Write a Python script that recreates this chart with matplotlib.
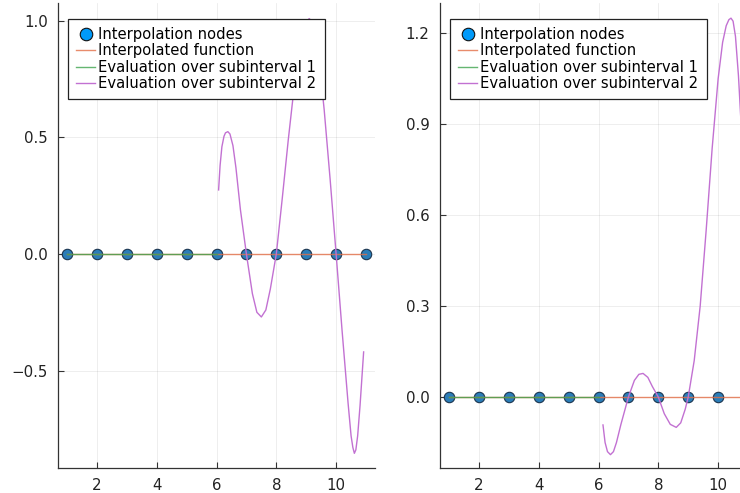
import numpy as np
import matplotlib
matplotlib.use("Agg")
import matplotlib.pyplot as plt

# interpolation nodes
nodes_x = [1, 2, 3, 4, 5, 6, 7, 8, 9, 10, 11]
nodes_y = [0, 0, 0, 0, 0, 0, 0, 0, 0, 0, 0]

# subinterval 1 evaluation (flat zero over [1, 6])
sub1_x = [1, 2, 3, 4, 5, 6]
sub1_y = [0, 0, 0, 0, 0, 0]

# subinterval 2 evaluation, left panel
left_x = [6.07, 6.12, 6.18, 6.25, 6.3, 6.38, 6.45, 6.55, 6.65, 6.8, 7.0, 7.2, 7.35,
          7.5, 7.65, 7.8, 8.0, 8.2, 8.4, 8.6, 8.8, 8.95, 9.03, 9.1, 9.18, 9.25,
          9.4, 9.6, 9.8, 10.0, 10.2, 10.4, 10.5, 10.56, 10.61, 10.66, 10.72,
          10.8, 10.92]
left_y = [0.275, 0.38, 0.46, 0.505, 0.52, 0.525, 0.515, 0.465, 0.37, 0.19, 0.0,
          -0.17, -0.25, -0.27, -0.24, -0.15, 0.0, 0.24, 0.49, 0.72, 0.90, 0.98,
          1.0, 1.01, 1.0, 0.98, 0.87, 0.62, 0.32, 0.0, -0.33, -0.64, -0.78, -0.83,
          -0.855, -0.84, -0.78, -0.65, -0.42]

# subinterval 2 evaluation, right panel
right_x = [6.15, 6.22, 6.3, 6.4, 6.5, 6.6, 6.75, 7.0, 7.2, 7.35, 7.49, 7.65, 7.8,
           8.0, 8.2, 8.4, 8.6, 8.75, 8.9, 9.0, 9.2, 9.4, 9.6, 9.8, 10.0, 10.15,
           10.27, 10.36, 10.43, 10.5, 10.58, 10.68, 10.78, 10.9]
right_y = [-0.092, -0.15, -0.18, -0.19, -0.18, -0.15, -0.09, 0.0, 0.055, 0.075,
           0.078, 0.065, 0.035, 0.0, -0.055, -0.09, -0.10, -0.085, -0.04, 0.0, 0.12,
           0.30, 0.55, 0.82, 1.05, 1.17, 1.225, 1.245, 1.25, 1.24, 1.19, 1.06, 0.88,
           0.66]

blue = "#009afa"
orange = "#e36f47"
green = "#3ea44e"
purple = "#c271d2"

fig = plt.figure(figsize=(7.4, 4.93), dpi=100)
ax1 = fig.add_axes([58 / 740, 25 / 493, 317 / 740, 465 / 493])
ax2 = fig.add_axes([440 / 740, 25 / 493, 317 / 740, 465 / 493])

panels = [
    (ax1, left_x, left_y, (-0.918, 1.077), [-0.5, 0.0, 0.5, 1.0]),
    (ax2, right_x, right_y, (-0.234, 1.30), [0.0, 0.3, 0.6, 0.9, 1.2]),
]

for ax, cx, cy, ylim, yticks in panels:
    ax.plot(nodes_x, nodes_y, "o", ms=7.5, mfc="#2a7db8", mec="#1b3550", mew=0.8,
            label="Interpolation nodes", zorder=2)
    ax.plot(nodes_x, nodes_y, color=orange, lw=1, alpha=0.8,
            label="Interpolated function", zorder=3)
    ax.plot(sub1_x, sub1_y, color=green, lw=1, alpha=0.8,
            label="Evaluation over subinterval 1", zorder=4)
    ax.plot(cx, cy, color=purple, lw=1, label="Evaluation over subinterval 2", zorder=5)

    ax.set_xlim(0.7, 11.3)
    ax.set_ylim(*ylim)
    ax.set_xticks([2, 4, 6, 8, 10])
    ax.set_yticks(yticks)
    ax.set_yticklabels([f"{t:.1f}".replace("-", "\u2212") for t in yticks])
    ax.grid(True, color="#000000", alpha=0.08, lw=0.6)
    ax.set_axisbelow(True)
    for s in ["top", "right"]:
        ax.spines[s].set_visible(False)
    for s in ["left", "bottom"]:
        ax.spines[s].set_color("#333333")
        ax.spines[s].set_linewidth(0.9)
    ax.tick_params(direction="in", length=4, width=0.8, color="#333333",
                   labelsize=10.8, labelcolor="#222222", pad=7.5)

    leg = ax.legend(loc="upper left", bbox_to_anchor=(0.032, 0.966), fontsize=10.6,
                    frameon=True, fancybox=False, edgecolor="#222222",
                    handlelength=1.3, handletextpad=0.2, borderpad=0.55,
                    labelspacing=0.1, borderaxespad=0, framealpha=1,
                    markerscale=1.2)
    leg.get_frame().set_linewidth(0.9)
    leg.legend_handles[0].set_markerfacecolor(blue)
    leg.legend_handles[0].set_markeredgecolor("#111111")

fig.savefig("out.png", dpi=100)
